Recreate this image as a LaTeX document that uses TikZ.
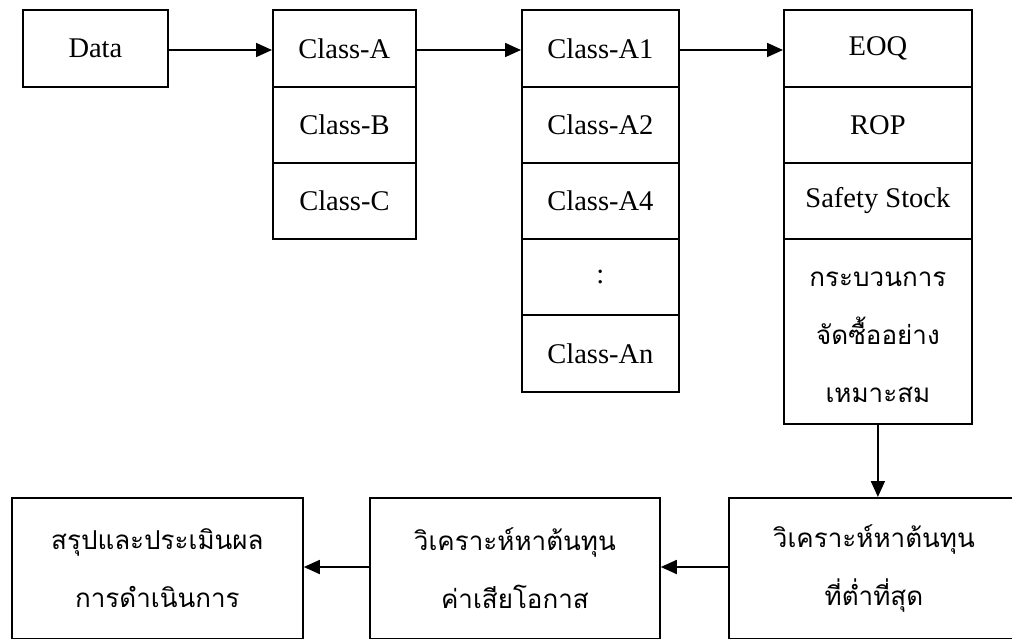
\documentclass[tikz,border=0pt]{standalone}
\usepackage{fontspec}
\setmainfont{Liberation Serif}
\newfontfamily\thaifont[Script=Thai]{Loma}
\usetikzlibrary{arrows.meta}
\tikzset{
  cell/.style={draw, line width=1.8pt, inner sep=0pt, anchor=north west,
    font=\fontsize{28.5}{32}\selectfont},
  thaicell/.style={cell, align=center, font=\thaifont\fontsize{26}{58}\selectfont},
  thaitext/.style={align=center, inner sep=0pt, font=\thaifont\fontsize{26}{58}\selectfont},
  link/.style={line width=1.8pt, -{Triangle[length=16pt,width=14pt]}}
}
\begin{document}
\begin{tikzpicture}[x=1pt,y=-1pt]
\clip (0,0) rectangle (1012,639);
\useasboundingbox (0,0) rectangle (1012,639);
% Data
\node[cell, minimum width=145pt, minimum height=77pt] (data) at (22,9) {Data};
% Class column
\node[cell, minimum width=143pt, minimum height=77pt] (ca) at (272,9) {Class-A};
\node[cell, minimum width=143pt, minimum height=76pt] (cb) at (272,86) {Class-B};
\node[cell, minimum width=143pt, minimum height=76pt] (cc) at (272,162) {Class-C};
% A column
\node[cell, minimum width=157pt, minimum height=77pt] (a1) at (521,9) {Class-A1};
\node[cell, minimum width=157pt, minimum height=76pt] (a2) at (521,86) {Class-A2};
\node[cell, minimum width=157pt, minimum height=76pt] (a4) at (521,162) {Class-A4};
\node[cell, minimum width=157pt, minimum height=76pt] (ad) at (521,238) {:};
\node[cell, minimum width=157pt, minimum height=77pt] (an) at (521,314) {Class-An};
% EOQ column
\node[cell, minimum width=188pt, minimum height=77pt] (eoq) at (783,9) {EOQ};
\node[cell, minimum width=188pt, minimum height=76pt] (rop) at (783,86) {ROP};
\node[cell, minimum width=188pt, minimum height=76pt] (ss) at (783,162) {Safety Stock};
\node[cell, minimum width=188pt, minimum height=185pt] (proc) at (783,238) {};
\node[thaitext] (procT) at ([yshift=-6pt]proc.center) {กระบวนการ\\จัดซื้ออย่าง\\เหมาะสม};
% bottom row
\node[thaicell, minimum width=290pt, minimum height=141pt] (low) at (728,497) {วิเคราะห์หาต้นทุน\\ที่ต่ำที่สุด};
\node[thaicell, minimum width=290pt, minimum height=141pt] (opp) at (369,497) {วิเคราะห์หาต้นทุน\\ค่าเสียโอกาส};
\node[thaicell, minimum width=291pt, minimum height=141pt] (sum) at (11,497) {สรุปและประเมินผล\\การดำเนินการ};
% connectors
\draw[link] (data.east |- 0,50) -- (ca.west |- 0,50);
\draw[link] (ca.east |- 0,50) -- (a1.west |- 0,50);
\draw[link] (a1.east |- 0,50) -- (eoq.west |- 0,50);
\draw[link] (proc.south) -- (proc.south |- low.north);
\draw[link] (low.west |- 0,567) -- (opp.east |- 0,567);
\draw[link] (opp.west |- 0,567) -- (sum.east |- 0,567);
\end{tikzpicture}
\end{document}
